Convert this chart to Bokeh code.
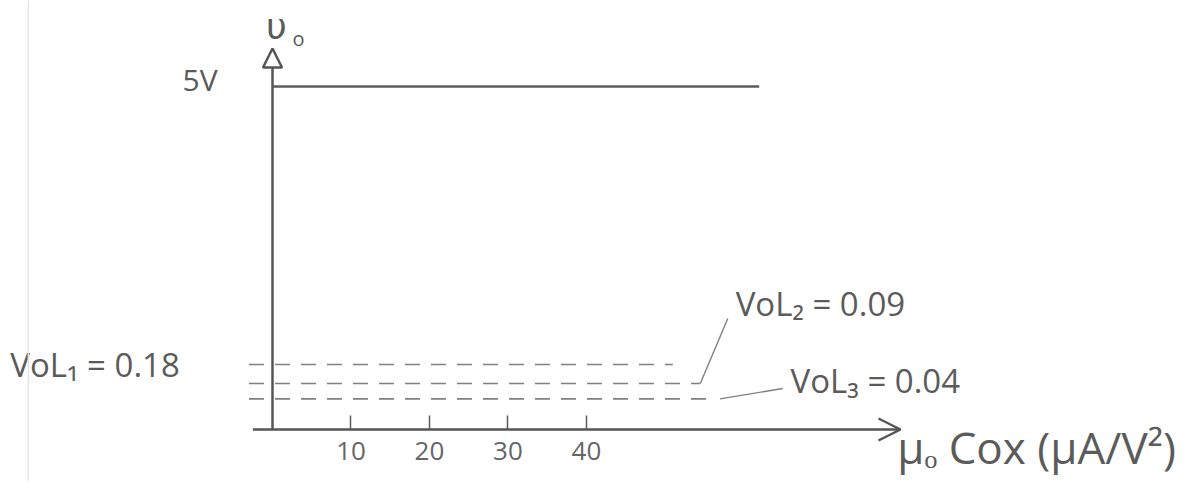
import numpy as np
from bokeh.plotting import figure
from bokeh.models import (Arrow, NormalHead, OpenHead, Label, LinearAxis,
                          FixedTicker, Span, ColumnDataSource)
from bokeh.core.properties import value
from bokeh.embed import file_html
from bokeh.resources import INLINE

# ---------------- data ----------------
vdd = 5.0                      # high output level
vdd_label = "5V"
vdd_x_end = 62                 # extent of the 5 V line along x
vol_names = ["VoL₁", "VoL₂", "VoL₃"]
vol_values = [0.18, 0.09, 0.04]
vol_texts = ["0.18", "0.09", "0.04"]
vol_x_end = [51, 54.5, 56.5]   # extent of each dashed level along x
x_ticks = [10, 20, 30, 40]
x_title = "μₒ Cox (μA/V²)"
y_title = "υ"
y_title_sub = "o"

# ---------------- styling ----------------
INK = "#5b5b5b"
AXIS_INK = "#555555"
DASH_INK = "#808080"
FONT = value("Open Sans")


def yt(v):
    """Schematic (square-root) vertical scale of the sketch."""
    return np.sqrt(np.asarray(v, dtype=float))


p = figure(width=1181, height=481,
           x_range=(-34.65, 115.8), y_range=(-0.339, 2.797),
           x_axis_type=None, y_axis_type=None,
           output_backend="svg", toolbar_location=None,
           min_border=0)
p.outline_line_color = None
p.xgrid.visible = False
p.ygrid.visible = False
p.background_fill_color = "white"
p.border_fill_color = "white"

# faint scan edge
p.add_layout(Span(location=-31.1, dimension="height", line_color="#e4e4e4",
                  line_width=1.5))

# x axis ticks and tick labels (axis line itself drawn as arrow)
xax = LinearAxis(ticker=FixedTicker(ticks=x_ticks), fixed_location=0)
xax.axis_line_color = None
xax.major_tick_in = 14
xax.major_tick_out = 0
xax.major_tick_line_color = INK
xax.major_tick_line_width = 1.5
xax.minor_tick_line_color = None
xax.major_label_text_font = "Open Sans"
xax.major_label_text_font_size = "26px"
xax.major_label_text_color = "#666666"
xax.major_label_standoff = 12
p.add_layout(xax, "below")

# axis arrows
p.add_layout(Arrow(x_start=-2.5, y_start=0, x_end=80, y_end=0,
                   line_color=AXIS_INK, line_width=2.5,
                   end=OpenHead(size=22, line_color=AXIS_INK, line_width=2.5)))
p.add_layout(Arrow(x_start=0, y_start=0, x_end=0, y_end=2.484,
                   line_color=AXIS_INK, line_width=2.5,
                   end=NormalHead(size=19, fill_color="white",
                                  line_color=AXIS_INK, line_width=2.5)))

# 5 V level
p.line(x=[0, vdd_x_end], y=[float(yt(vdd)), float(yt(vdd))],
       line_color=INK, line_width=2.5)

# VoL levels (dashed)
lv = ColumnDataSource(dict(
    xs=[[-3, xe] for xe in vol_x_end],
    ys=[[float(yt(v)), float(yt(v))] for v in vol_values],
))
p.multi_line(xs="xs", ys="ys", source=lv, line_color=DASH_INK,
             line_width=1.6, line_dash="15 11")

# leader lines from level ends to their labels
p.line(x=[vol_x_end[1], 58], y=[float(yt(vol_values[1])), 0.724],
       line_color=DASH_INK, line_width=1.4)
p.line(x=[vol_x_end[2] + 0.5, 65], y=[float(yt(vol_values[2])), 0.267],
       line_color=DASH_INK, line_width=1.4)

# texts
lab = ColumnDataSource(dict(
    x=[-33.4, 59, 66],
    y=[float(yt(vol_values[0])), 0.821, 0.319],
    t=[f"{n} =  {t}" if i == 0 else f"{n} = {t}"
       for i, (n, t) in enumerate(zip(vol_names, vol_texts))],
))
p.text(x="x", y="y", text="t", source=lab, text_font=FONT,
       text_font_size="33px", text_color=INK, text_baseline="middle",
       text_align="left")

p.add_layout(Label(x=-7.0, y=float(yt(vdd)) + 0.045, text=vdd_label,
                   text_font="Open Sans", text_font_size="30px",
                   text_color=INK, text_align="right",
                   text_baseline="middle"))
p.add_layout(Label(x=0.5, y=2.63, text=y_title, text_font="DejaVu Sans",
                   text_font_size="36px", text_color=INK, text_align="center",
                   text_baseline="middle"))
p.add_layout(Label(x=3.3, y=2.55, text=y_title_sub, text_font="Open Sans",
                   text_font_size="20px", text_color=INK, text_align="center",
                   text_baseline="middle"))
p.add_layout(Label(x=79.6, y=-0.115, text=x_title, text_font="Open Sans",
                   text_font_size="44px", text_color=INK, text_align="left",
                   text_baseline="middle"))

open("out.html", "w").write(file_html(p, INLINE))
